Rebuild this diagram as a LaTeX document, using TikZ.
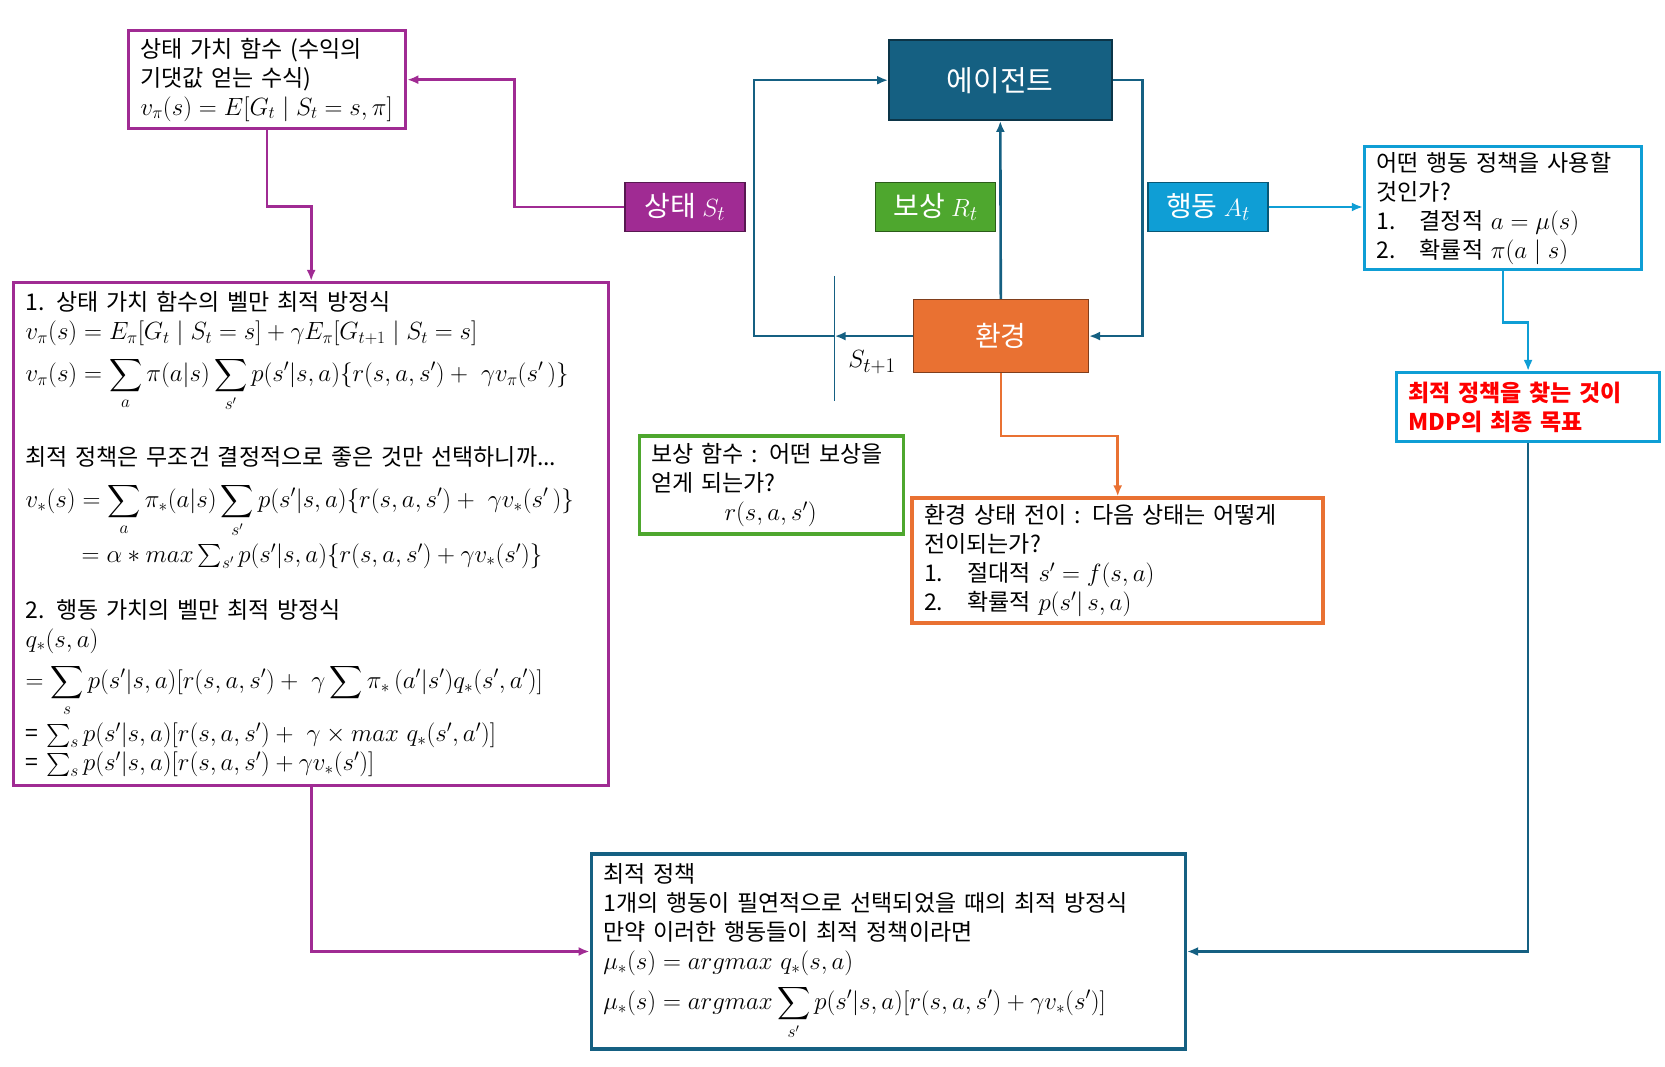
\documentclass[tikz,border=0pt]{standalone}
\usepackage[no-math]{fontspec}
\setmainfont{Noto Sans CJK KR}
\usepackage{amsmath}
\usepackage{amssymb}
\usetikzlibrary{arrows.meta}
\definecolor{agentblue}{HTML}{156082}
\definecolor{envorange}{HTML}{E97132}
\definecolor{actblue}{HTML}{0F9ED5}
\definecolor{statepurple}{HTML}{A02B93}
\definecolor{rewardgreen}{HTML}{4EA72E}

\begin{document}
\begin{tikzpicture}[x=1pt, y=-1pt,
   every node/.style={font=\fontsize{23}{29}\selectfont},
   infobox/.style={draw=#1, line width=3.5pt, fill=white, align=left, inner xsep=12pt, inner ysep=3pt},
   tagbox/.style={fill=#1, draw=#1!55!black, line width=1.5pt, text=white, inner sep=0pt, font=\fontsize{28}{32}\selectfont},
   link/.style={draw=#1, line width=2.6pt, -{Latex[length=11pt,width=9pt]}}]
   \useasboundingbox (0,0) rectangle (1665,1067);
   % agent / environment loop
   \node[tagbox=agentblue, minimum width=223pt, minimum height=80pt, font=\fontsize{29}{33}\selectfont] (agent) at (1000.3,80.2) {에이전트};
   \node[tagbox=envorange, minimum width=175pt, minimum height=73pt] (env) at (1000.8,336.1) {환경};
   \foreach \pos/\name/\col/\disp in {{(685,207)/state/statepurple/상태 $S_t$}, {(935.5,207)/reward/rewardgreen/보상 $R_t$}, {(1208,207)/action/actblue/행동 $A_t$}}
   \node[tagbox=\col, minimum width=120pt, minimum height=49pt] (\name) at \pos {\disp};
   \node[font=\fontsize{31}{35}\selectfont] (snext) at (872,362) {$S_{t+1}$};
   % text boxes
   \node[infobox=statepurple, text width=253pt, minimum height=98pt] (valbox) at (267,79.7) {상태 가치 함수 (수익의\\ 기댓값 얻는 수식)\\ $v_\pi(s) = E[G_t \mid S_t = s, \pi]$};
   \node[infobox=statepurple, text width=571pt, minimum height=503pt] (bellman) at (311.2,534.2) {1. 상태 가치 함수의 벨만 최적 방정식\\
      $v_\pi(s) = E_\pi[G_t \mid S_t = s] + \gamma E_\pi[G_{t+1} \mid S_t = s]$\\[10pt]
      $v_\pi(s) = \displaystyle\sum_{a} \pi(a|s) \sum_{s'} p(s'|s,a)\{r(s,a,s') +\ \gamma v_\pi(s'\,)\}$\\[34pt]
      최적 정책은 무조건 결정적으로 좋은 것만 선택하니까...\\[13pt]
      $v_*(s) = \displaystyle\sum_{a} \pi_*(a|s) \sum_{s'} p(s'|s,a)\{r(s,a,s') +\ \gamma v_*(s'\,)\}$\\[5pt]
      \hspace*{56pt}$= \alpha * max \sum_{s'} p(s'|s,a)\{r(s,a,s') + \gamma v_*(s')\}$\\[27pt]
      2. 행동 가치의 벨만 최적 방정식\\
      $q_*(s,a)$\\[10pt]
      $= \displaystyle\sum_{s} p(s'|s,a)[r(s,a,s') +\ \gamma \sum \pi_*\,(a'|s')q_*(s',a')]$\\[5pt]
      = $\sum_s p(s'|s,a)[r(s,a,s') +\ \gamma \times max\ q_*(s',a')]$\\
      = $\sum_s p(s'|s,a)[r(s,a,s') + \gamma v_*(s')]$};
   \node[infobox=actblue, text width=253pt, minimum height=123pt] (policybox) at (1503.1,208.1) {어떤 행동 정책을 사용할\\ 것인가?\\ 1.\hspace{24pt}결정적 $a = \mu(s)$\\ 2.\hspace{24pt}확률적 $\pi(a \mid s)$};
   \node[infobox=actblue, text width=239pt, minimum height=69pt, text=red, font=\fontsize{23}{29}\selectfont\bfseries] (goal) at (1528.1,407.2) {최적 정책을 찾는 것이\\ MDP의 최종 목표};
   \node[infobox=rewardgreen, text width=240pt, minimum height=98pt] (rewardfn) at (771.5,485.2) {보상 함수 : 어떤 보상을\\ 얻게 되는가?\\ \hspace*{73pt}$r(s,a,s')$};
   \node[infobox=envorange, text width=387pt, minimum height=125pt] (trans) at (1117.7,560.7) {환경 상태 전이 : 다음 상태는 어떻게\\ 전이되는가?\\ 1.\hspace{24pt}절대적 $s' = f(s,a)$\\ 2.\hspace{24pt}확률적 $p(s'|\,s,a)$};
   \node[infobox=agentblue, text width=570pt, minimum height=195pt] (optimal) at (888.3,951.5) {최적 정책\\
      1개의 행동이 필연적으로 선택되었을 때의 최적 방정식\\
      만약 이러한 행동들이 최적 정책이라면\\
      $\mu_*(s) = argmax\ q_*(s,a)$\\[8pt]
      $\mu_*(s) = argmax \displaystyle\sum_{s'} p(s'|s,a)[r(s,a,s') + \gamma v_*(s')]$};
   % connectors
   \draw[link=statepurple] (state.west) -- ++(-110,0) |- (valbox.east);
   \draw[link=statepurple] (valbox.south) -- ++(0,76) -| (bellman.north);
   \draw[link=statepurple] (bellman.south) |- (optimal.west);
   \coordinate (tick) at (834.7,336.1);
   \draw[agentblue, line width=1.5pt] (834.7,276) -- (834.7,401);
   \draw[link=agentblue] (env.west) -- (tick);
   \draw[link=agentblue] (tick) -- ++(-80.7,0) |- (agent.west);
   \draw[link=agentblue] (env.north) -- (agent.south);
   \draw[link=agentblue] (agent.east) -- ++(29.7,0) |- (env.east);
   \draw[link=actblue] (action.east) -- (action.east -| policybox.west);
   \draw[link=actblue] (policybox.south) -- ++(0,51) -| (goal.north);
   \draw[link=agentblue] (goal.south) |- (optimal.east);
   \draw[link=envorange] (env.south) -- ++(0,62.7) -| (trans.north);
\end{tikzpicture}
\end{document}
